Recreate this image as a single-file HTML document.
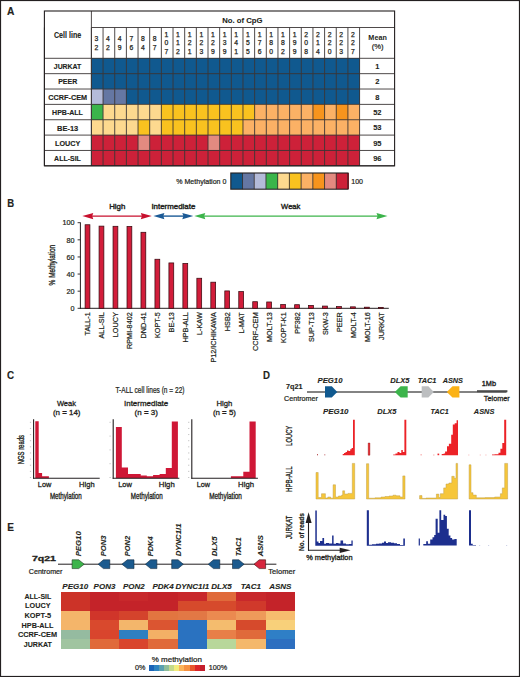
<!DOCTYPE html>
<html><head><meta charset="utf-8"><style>
html,body{margin:0;padding:0;background:#fff;}
body{width:520px;height:677px;overflow:hidden;}
svg{display:block;font-family:"Liberation Sans",sans-serif;}
</style></head><body>
<svg width="520" height="677" viewBox="0 0 520 677">
<rect width="520" height="677" fill="#fff"/>
<rect x="0.50" y="0.50" width="519.00" height="676.00" fill="none" stroke="#231f20" stroke-width="1.2"/>
<text transform="translate(6.90,14.80) scale(0.907,1)" font-size="11.3" font-weight="bold" font-style="normal" fill="#231f20" stroke="#231f20" stroke-width="0.15">A</text>
<text transform="translate(7.30,206.60) scale(0.846,1)" font-size="11.3" font-weight="bold" font-style="normal" fill="#231f20" stroke="#231f20" stroke-width="0.15">B</text>
<text transform="translate(7.10,378.70) scale(0.870,1)" font-size="11.3" font-weight="bold" font-style="normal" fill="#231f20" stroke="#231f20" stroke-width="0.15">C</text>
<text transform="translate(262.90,379.10) scale(0.858,1)" font-size="11.3" font-weight="bold" font-style="normal" fill="#231f20" stroke="#231f20" stroke-width="0.15">D</text>
<text transform="translate(7.20,530.90) scale(0.889,1)" font-size="11.3" font-weight="bold" font-style="normal" fill="#231f20" stroke="#231f20" stroke-width="0.2">E</text>
<rect x="91.40" y="58.30" width="12.16" height="15.86" fill="#10598f" shape-rendering="crispEdges"/>
<rect x="103.06" y="58.30" width="12.16" height="15.86" fill="#10598f" shape-rendering="crispEdges"/>
<rect x="114.72" y="58.30" width="12.16" height="15.86" fill="#10598f" shape-rendering="crispEdges"/>
<rect x="126.38" y="58.30" width="12.16" height="15.86" fill="#10598f" shape-rendering="crispEdges"/>
<rect x="138.04" y="58.30" width="12.16" height="15.86" fill="#10598f" shape-rendering="crispEdges"/>
<rect x="149.70" y="58.30" width="12.16" height="15.86" fill="#10598f" shape-rendering="crispEdges"/>
<rect x="161.36" y="58.30" width="12.16" height="15.86" fill="#10598f" shape-rendering="crispEdges"/>
<rect x="173.02" y="58.30" width="12.16" height="15.86" fill="#10598f" shape-rendering="crispEdges"/>
<rect x="184.68" y="58.30" width="12.16" height="15.86" fill="#10598f" shape-rendering="crispEdges"/>
<rect x="196.34" y="58.30" width="12.16" height="15.86" fill="#10598f" shape-rendering="crispEdges"/>
<rect x="208.00" y="58.30" width="12.16" height="15.86" fill="#10598f" shape-rendering="crispEdges"/>
<rect x="219.66" y="58.30" width="12.16" height="15.86" fill="#10598f" shape-rendering="crispEdges"/>
<rect x="231.32" y="58.30" width="12.16" height="15.86" fill="#10598f" shape-rendering="crispEdges"/>
<rect x="242.98" y="58.30" width="12.16" height="15.86" fill="#10598f" shape-rendering="crispEdges"/>
<rect x="254.64" y="58.30" width="12.16" height="15.86" fill="#10598f" shape-rendering="crispEdges"/>
<rect x="266.30" y="58.30" width="12.16" height="15.86" fill="#10598f" shape-rendering="crispEdges"/>
<rect x="277.96" y="58.30" width="12.16" height="15.86" fill="#10598f" shape-rendering="crispEdges"/>
<rect x="289.62" y="58.30" width="12.16" height="15.86" fill="#10598f" shape-rendering="crispEdges"/>
<rect x="301.28" y="58.30" width="12.16" height="15.86" fill="#10598f" shape-rendering="crispEdges"/>
<rect x="312.94" y="58.30" width="12.16" height="15.86" fill="#10598f" shape-rendering="crispEdges"/>
<rect x="324.60" y="58.30" width="12.16" height="15.86" fill="#10598f" shape-rendering="crispEdges"/>
<rect x="336.26" y="58.30" width="12.16" height="15.86" fill="#10598f" shape-rendering="crispEdges"/>
<rect x="347.92" y="58.30" width="12.16" height="15.86" fill="#10598f" shape-rendering="crispEdges"/>
<rect x="91.40" y="73.66" width="12.16" height="15.86" fill="#10598f" shape-rendering="crispEdges"/>
<rect x="103.06" y="73.66" width="12.16" height="15.86" fill="#10598f" shape-rendering="crispEdges"/>
<rect x="114.72" y="73.66" width="12.16" height="15.86" fill="#10598f" shape-rendering="crispEdges"/>
<rect x="126.38" y="73.66" width="12.16" height="15.86" fill="#10598f" shape-rendering="crispEdges"/>
<rect x="138.04" y="73.66" width="12.16" height="15.86" fill="#10598f" shape-rendering="crispEdges"/>
<rect x="149.70" y="73.66" width="12.16" height="15.86" fill="#10598f" shape-rendering="crispEdges"/>
<rect x="161.36" y="73.66" width="12.16" height="15.86" fill="#10598f" shape-rendering="crispEdges"/>
<rect x="173.02" y="73.66" width="12.16" height="15.86" fill="#10598f" shape-rendering="crispEdges"/>
<rect x="184.68" y="73.66" width="12.16" height="15.86" fill="#10598f" shape-rendering="crispEdges"/>
<rect x="196.34" y="73.66" width="12.16" height="15.86" fill="#10598f" shape-rendering="crispEdges"/>
<rect x="208.00" y="73.66" width="12.16" height="15.86" fill="#10598f" shape-rendering="crispEdges"/>
<rect x="219.66" y="73.66" width="12.16" height="15.86" fill="#10598f" shape-rendering="crispEdges"/>
<rect x="231.32" y="73.66" width="12.16" height="15.86" fill="#10598f" shape-rendering="crispEdges"/>
<rect x="242.98" y="73.66" width="12.16" height="15.86" fill="#10598f" shape-rendering="crispEdges"/>
<rect x="254.64" y="73.66" width="12.16" height="15.86" fill="#10598f" shape-rendering="crispEdges"/>
<rect x="266.30" y="73.66" width="12.16" height="15.86" fill="#10598f" shape-rendering="crispEdges"/>
<rect x="277.96" y="73.66" width="12.16" height="15.86" fill="#10598f" shape-rendering="crispEdges"/>
<rect x="289.62" y="73.66" width="12.16" height="15.86" fill="#10598f" shape-rendering="crispEdges"/>
<rect x="301.28" y="73.66" width="12.16" height="15.86" fill="#10598f" shape-rendering="crispEdges"/>
<rect x="312.94" y="73.66" width="12.16" height="15.86" fill="#10598f" shape-rendering="crispEdges"/>
<rect x="324.60" y="73.66" width="12.16" height="15.86" fill="#10598f" shape-rendering="crispEdges"/>
<rect x="336.26" y="73.66" width="12.16" height="15.86" fill="#10598f" shape-rendering="crispEdges"/>
<rect x="347.92" y="73.66" width="12.16" height="15.86" fill="#10598f" shape-rendering="crispEdges"/>
<rect x="91.40" y="89.02" width="12.16" height="15.86" fill="#b4bbd9" shape-rendering="crispEdges"/>
<rect x="103.06" y="89.02" width="12.16" height="15.86" fill="#6577a3" shape-rendering="crispEdges"/>
<rect x="114.72" y="89.02" width="12.16" height="15.86" fill="#6577a3" shape-rendering="crispEdges"/>
<rect x="126.38" y="89.02" width="12.16" height="15.86" fill="#10598f" shape-rendering="crispEdges"/>
<rect x="138.04" y="89.02" width="12.16" height="15.86" fill="#10598f" shape-rendering="crispEdges"/>
<rect x="149.70" y="89.02" width="12.16" height="15.86" fill="#10598f" shape-rendering="crispEdges"/>
<rect x="161.36" y="89.02" width="12.16" height="15.86" fill="#10598f" shape-rendering="crispEdges"/>
<rect x="173.02" y="89.02" width="12.16" height="15.86" fill="#10598f" shape-rendering="crispEdges"/>
<rect x="184.68" y="89.02" width="12.16" height="15.86" fill="#10598f" shape-rendering="crispEdges"/>
<rect x="196.34" y="89.02" width="12.16" height="15.86" fill="#10598f" shape-rendering="crispEdges"/>
<rect x="208.00" y="89.02" width="12.16" height="15.86" fill="#10598f" shape-rendering="crispEdges"/>
<rect x="219.66" y="89.02" width="12.16" height="15.86" fill="#10598f" shape-rendering="crispEdges"/>
<rect x="231.32" y="89.02" width="12.16" height="15.86" fill="#10598f" shape-rendering="crispEdges"/>
<rect x="242.98" y="89.02" width="12.16" height="15.86" fill="#10598f" shape-rendering="crispEdges"/>
<rect x="254.64" y="89.02" width="12.16" height="15.86" fill="#10598f" shape-rendering="crispEdges"/>
<rect x="266.30" y="89.02" width="12.16" height="15.86" fill="#10598f" shape-rendering="crispEdges"/>
<rect x="277.96" y="89.02" width="12.16" height="15.86" fill="#10598f" shape-rendering="crispEdges"/>
<rect x="289.62" y="89.02" width="12.16" height="15.86" fill="#10598f" shape-rendering="crispEdges"/>
<rect x="301.28" y="89.02" width="12.16" height="15.86" fill="#10598f" shape-rendering="crispEdges"/>
<rect x="312.94" y="89.02" width="12.16" height="15.86" fill="#10598f" shape-rendering="crispEdges"/>
<rect x="324.60" y="89.02" width="12.16" height="15.86" fill="#10598f" shape-rendering="crispEdges"/>
<rect x="336.26" y="89.02" width="12.16" height="15.86" fill="#10598f" shape-rendering="crispEdges"/>
<rect x="347.92" y="89.02" width="12.16" height="15.86" fill="#10598f" shape-rendering="crispEdges"/>
<rect x="91.40" y="104.38" width="12.16" height="15.86" fill="#3ab54a" shape-rendering="crispEdges"/>
<rect x="103.06" y="104.38" width="12.16" height="15.86" fill="#fdd98f" shape-rendering="crispEdges"/>
<rect x="114.72" y="104.38" width="12.16" height="15.86" fill="#fdd98f" shape-rendering="crispEdges"/>
<rect x="126.38" y="104.38" width="12.16" height="15.86" fill="#fdd98f" shape-rendering="crispEdges"/>
<rect x="138.04" y="104.38" width="12.16" height="15.86" fill="#fdd98f" shape-rendering="crispEdges"/>
<rect x="149.70" y="104.38" width="12.16" height="15.86" fill="#fdd98f" shape-rendering="crispEdges"/>
<rect x="161.36" y="104.38" width="12.16" height="15.86" fill="#f9c21f" shape-rendering="crispEdges"/>
<rect x="173.02" y="104.38" width="12.16" height="15.86" fill="#f9c21f" shape-rendering="crispEdges"/>
<rect x="184.68" y="104.38" width="12.16" height="15.86" fill="#f9c21f" shape-rendering="crispEdges"/>
<rect x="196.34" y="104.38" width="12.16" height="15.86" fill="#f9c21f" shape-rendering="crispEdges"/>
<rect x="208.00" y="104.38" width="12.16" height="15.86" fill="#f9c21f" shape-rendering="crispEdges"/>
<rect x="219.66" y="104.38" width="12.16" height="15.86" fill="#f9c21f" shape-rendering="crispEdges"/>
<rect x="231.32" y="104.38" width="12.16" height="15.86" fill="#f9c21f" shape-rendering="crispEdges"/>
<rect x="242.98" y="104.38" width="12.16" height="15.86" fill="#f9c21f" shape-rendering="crispEdges"/>
<rect x="254.64" y="104.38" width="12.16" height="15.86" fill="#fbb165" shape-rendering="crispEdges"/>
<rect x="266.30" y="104.38" width="12.16" height="15.86" fill="#fbb165" shape-rendering="crispEdges"/>
<rect x="277.96" y="104.38" width="12.16" height="15.86" fill="#fbb165" shape-rendering="crispEdges"/>
<rect x="289.62" y="104.38" width="12.16" height="15.86" fill="#fbb165" shape-rendering="crispEdges"/>
<rect x="301.28" y="104.38" width="12.16" height="15.86" fill="#fbb165" shape-rendering="crispEdges"/>
<rect x="312.94" y="104.38" width="12.16" height="15.86" fill="#f7941d" shape-rendering="crispEdges"/>
<rect x="324.60" y="104.38" width="12.16" height="15.86" fill="#fbb165" shape-rendering="crispEdges"/>
<rect x="336.26" y="104.38" width="12.16" height="15.86" fill="#f7941d" shape-rendering="crispEdges"/>
<rect x="347.92" y="104.38" width="12.16" height="15.86" fill="#fbb165" shape-rendering="crispEdges"/>
<rect x="91.40" y="119.74" width="12.16" height="15.86" fill="#fdd98f" shape-rendering="crispEdges"/>
<rect x="103.06" y="119.74" width="12.16" height="15.86" fill="#fdd98f" shape-rendering="crispEdges"/>
<rect x="114.72" y="119.74" width="12.16" height="15.86" fill="#fdd98f" shape-rendering="crispEdges"/>
<rect x="126.38" y="119.74" width="12.16" height="15.86" fill="#fdd98f" shape-rendering="crispEdges"/>
<rect x="138.04" y="119.74" width="12.16" height="15.86" fill="#f9c21f" shape-rendering="crispEdges"/>
<rect x="149.70" y="119.74" width="12.16" height="15.86" fill="#fdd98f" shape-rendering="crispEdges"/>
<rect x="161.36" y="119.74" width="12.16" height="15.86" fill="#f9c21f" shape-rendering="crispEdges"/>
<rect x="173.02" y="119.74" width="12.16" height="15.86" fill="#f9c21f" shape-rendering="crispEdges"/>
<rect x="184.68" y="119.74" width="12.16" height="15.86" fill="#f9c21f" shape-rendering="crispEdges"/>
<rect x="196.34" y="119.74" width="12.16" height="15.86" fill="#f9c21f" shape-rendering="crispEdges"/>
<rect x="208.00" y="119.74" width="12.16" height="15.86" fill="#f9c21f" shape-rendering="crispEdges"/>
<rect x="219.66" y="119.74" width="12.16" height="15.86" fill="#f9c21f" shape-rendering="crispEdges"/>
<rect x="231.32" y="119.74" width="12.16" height="15.86" fill="#f9c21f" shape-rendering="crispEdges"/>
<rect x="242.98" y="119.74" width="12.16" height="15.86" fill="#fbb165" shape-rendering="crispEdges"/>
<rect x="254.64" y="119.74" width="12.16" height="15.86" fill="#fbb165" shape-rendering="crispEdges"/>
<rect x="266.30" y="119.74" width="12.16" height="15.86" fill="#fbb165" shape-rendering="crispEdges"/>
<rect x="277.96" y="119.74" width="12.16" height="15.86" fill="#fbb165" shape-rendering="crispEdges"/>
<rect x="289.62" y="119.74" width="12.16" height="15.86" fill="#fbb165" shape-rendering="crispEdges"/>
<rect x="301.28" y="119.74" width="12.16" height="15.86" fill="#fbb165" shape-rendering="crispEdges"/>
<rect x="312.94" y="119.74" width="12.16" height="15.86" fill="#fbb165" shape-rendering="crispEdges"/>
<rect x="324.60" y="119.74" width="12.16" height="15.86" fill="#fbb165" shape-rendering="crispEdges"/>
<rect x="336.26" y="119.74" width="12.16" height="15.86" fill="#fbb165" shape-rendering="crispEdges"/>
<rect x="347.92" y="119.74" width="12.16" height="15.86" fill="#fbb165" shape-rendering="crispEdges"/>
<rect x="91.40" y="135.10" width="12.16" height="15.86" fill="#cd2139" shape-rendering="crispEdges"/>
<rect x="103.06" y="135.10" width="12.16" height="15.86" fill="#cd2139" shape-rendering="crispEdges"/>
<rect x="114.72" y="135.10" width="12.16" height="15.86" fill="#cd2139" shape-rendering="crispEdges"/>
<rect x="126.38" y="135.10" width="12.16" height="15.86" fill="#cd2139" shape-rendering="crispEdges"/>
<rect x="138.04" y="135.10" width="12.16" height="15.86" fill="#e38a80" shape-rendering="crispEdges"/>
<rect x="149.70" y="135.10" width="12.16" height="15.86" fill="#cd2139" shape-rendering="crispEdges"/>
<rect x="161.36" y="135.10" width="12.16" height="15.86" fill="#cd2139" shape-rendering="crispEdges"/>
<rect x="173.02" y="135.10" width="12.16" height="15.86" fill="#cd2139" shape-rendering="crispEdges"/>
<rect x="184.68" y="135.10" width="12.16" height="15.86" fill="#cd2139" shape-rendering="crispEdges"/>
<rect x="196.34" y="135.10" width="12.16" height="15.86" fill="#cd2139" shape-rendering="crispEdges"/>
<rect x="208.00" y="135.10" width="12.16" height="15.86" fill="#e38a80" shape-rendering="crispEdges"/>
<rect x="219.66" y="135.10" width="12.16" height="15.86" fill="#cd2139" shape-rendering="crispEdges"/>
<rect x="231.32" y="135.10" width="12.16" height="15.86" fill="#cd2139" shape-rendering="crispEdges"/>
<rect x="242.98" y="135.10" width="12.16" height="15.86" fill="#cd2139" shape-rendering="crispEdges"/>
<rect x="254.64" y="135.10" width="12.16" height="15.86" fill="#cd2139" shape-rendering="crispEdges"/>
<rect x="266.30" y="135.10" width="12.16" height="15.86" fill="#cd2139" shape-rendering="crispEdges"/>
<rect x="277.96" y="135.10" width="12.16" height="15.86" fill="#cd2139" shape-rendering="crispEdges"/>
<rect x="289.62" y="135.10" width="12.16" height="15.86" fill="#cd2139" shape-rendering="crispEdges"/>
<rect x="301.28" y="135.10" width="12.16" height="15.86" fill="#cd2139" shape-rendering="crispEdges"/>
<rect x="312.94" y="135.10" width="12.16" height="15.86" fill="#cd2139" shape-rendering="crispEdges"/>
<rect x="324.60" y="135.10" width="12.16" height="15.86" fill="#cd2139" shape-rendering="crispEdges"/>
<rect x="336.26" y="135.10" width="12.16" height="15.86" fill="#cd2139" shape-rendering="crispEdges"/>
<rect x="347.92" y="135.10" width="12.16" height="15.86" fill="#cd2139" shape-rendering="crispEdges"/>
<rect x="91.40" y="150.46" width="12.16" height="15.86" fill="#cd2139" shape-rendering="crispEdges"/>
<rect x="103.06" y="150.46" width="12.16" height="15.86" fill="#cd2139" shape-rendering="crispEdges"/>
<rect x="114.72" y="150.46" width="12.16" height="15.86" fill="#cd2139" shape-rendering="crispEdges"/>
<rect x="126.38" y="150.46" width="12.16" height="15.86" fill="#cd2139" shape-rendering="crispEdges"/>
<rect x="138.04" y="150.46" width="12.16" height="15.86" fill="#cd2139" shape-rendering="crispEdges"/>
<rect x="149.70" y="150.46" width="12.16" height="15.86" fill="#cd2139" shape-rendering="crispEdges"/>
<rect x="161.36" y="150.46" width="12.16" height="15.86" fill="#cd2139" shape-rendering="crispEdges"/>
<rect x="173.02" y="150.46" width="12.16" height="15.86" fill="#cd2139" shape-rendering="crispEdges"/>
<rect x="184.68" y="150.46" width="12.16" height="15.86" fill="#cd2139" shape-rendering="crispEdges"/>
<rect x="196.34" y="150.46" width="12.16" height="15.86" fill="#cd2139" shape-rendering="crispEdges"/>
<rect x="208.00" y="150.46" width="12.16" height="15.86" fill="#cd2139" shape-rendering="crispEdges"/>
<rect x="219.66" y="150.46" width="12.16" height="15.86" fill="#cd2139" shape-rendering="crispEdges"/>
<rect x="231.32" y="150.46" width="12.16" height="15.86" fill="#cd2139" shape-rendering="crispEdges"/>
<rect x="242.98" y="150.46" width="12.16" height="15.86" fill="#cd2139" shape-rendering="crispEdges"/>
<rect x="254.64" y="150.46" width="12.16" height="15.86" fill="#cd2139" shape-rendering="crispEdges"/>
<rect x="266.30" y="150.46" width="12.16" height="15.86" fill="#cd2139" shape-rendering="crispEdges"/>
<rect x="277.96" y="150.46" width="12.16" height="15.86" fill="#cd2139" shape-rendering="crispEdges"/>
<rect x="289.62" y="150.46" width="12.16" height="15.86" fill="#cd2139" shape-rendering="crispEdges"/>
<rect x="301.28" y="150.46" width="12.16" height="15.86" fill="#cd2139" shape-rendering="crispEdges"/>
<rect x="312.94" y="150.46" width="12.16" height="15.86" fill="#cd2139" shape-rendering="crispEdges"/>
<rect x="324.60" y="150.46" width="12.16" height="15.86" fill="#cd2139" shape-rendering="crispEdges"/>
<rect x="336.26" y="150.46" width="12.16" height="15.86" fill="#cd2139" shape-rendering="crispEdges"/>
<rect x="347.92" y="150.46" width="12.16" height="15.86" fill="#cd2139" shape-rendering="crispEdges"/>
<line x1="91.40" y1="27.50" x2="91.40" y2="165.82" stroke="#3b3536" stroke-width="0.9"/>
<line x1="103.06" y1="27.50" x2="103.06" y2="165.82" stroke="#3b3536" stroke-width="0.9"/>
<line x1="114.72" y1="27.50" x2="114.72" y2="165.82" stroke="#3b3536" stroke-width="0.9"/>
<line x1="126.38" y1="27.50" x2="126.38" y2="165.82" stroke="#3b3536" stroke-width="0.9"/>
<line x1="138.04" y1="27.50" x2="138.04" y2="165.82" stroke="#3b3536" stroke-width="0.9"/>
<line x1="149.70" y1="27.50" x2="149.70" y2="165.82" stroke="#3b3536" stroke-width="0.9"/>
<line x1="161.36" y1="27.50" x2="161.36" y2="165.82" stroke="#3b3536" stroke-width="0.9"/>
<line x1="173.02" y1="27.50" x2="173.02" y2="165.82" stroke="#3b3536" stroke-width="0.9"/>
<line x1="184.68" y1="27.50" x2="184.68" y2="165.82" stroke="#3b3536" stroke-width="0.9"/>
<line x1="196.34" y1="27.50" x2="196.34" y2="165.82" stroke="#3b3536" stroke-width="0.9"/>
<line x1="208.00" y1="27.50" x2="208.00" y2="165.82" stroke="#3b3536" stroke-width="0.9"/>
<line x1="219.66" y1="27.50" x2="219.66" y2="165.82" stroke="#3b3536" stroke-width="0.9"/>
<line x1="231.32" y1="27.50" x2="231.32" y2="165.82" stroke="#3b3536" stroke-width="0.9"/>
<line x1="242.98" y1="27.50" x2="242.98" y2="165.82" stroke="#3b3536" stroke-width="0.9"/>
<line x1="254.64" y1="27.50" x2="254.64" y2="165.82" stroke="#3b3536" stroke-width="0.9"/>
<line x1="266.30" y1="27.50" x2="266.30" y2="165.82" stroke="#3b3536" stroke-width="0.9"/>
<line x1="277.96" y1="27.50" x2="277.96" y2="165.82" stroke="#3b3536" stroke-width="0.9"/>
<line x1="289.62" y1="27.50" x2="289.62" y2="165.82" stroke="#3b3536" stroke-width="0.9"/>
<line x1="301.28" y1="27.50" x2="301.28" y2="165.82" stroke="#3b3536" stroke-width="0.9"/>
<line x1="312.94" y1="27.50" x2="312.94" y2="165.82" stroke="#3b3536" stroke-width="0.9"/>
<line x1="324.60" y1="27.50" x2="324.60" y2="165.82" stroke="#3b3536" stroke-width="0.9"/>
<line x1="336.26" y1="27.50" x2="336.26" y2="165.82" stroke="#3b3536" stroke-width="0.9"/>
<line x1="347.92" y1="27.50" x2="347.92" y2="165.82" stroke="#3b3536" stroke-width="0.9"/>
<line x1="359.58" y1="27.50" x2="359.58" y2="165.82" stroke="#3b3536" stroke-width="0.9"/>
<line x1="44.40" y1="58.30" x2="394.60" y2="58.30" stroke="#3b3536" stroke-width="0.9"/>
<line x1="44.40" y1="73.66" x2="394.60" y2="73.66" stroke="#3b3536" stroke-width="0.9"/>
<line x1="44.40" y1="89.02" x2="394.60" y2="89.02" stroke="#3b3536" stroke-width="0.9"/>
<line x1="44.40" y1="104.38" x2="394.60" y2="104.38" stroke="#3b3536" stroke-width="0.9"/>
<line x1="44.40" y1="119.74" x2="394.60" y2="119.74" stroke="#3b3536" stroke-width="0.9"/>
<line x1="44.40" y1="135.10" x2="394.60" y2="135.10" stroke="#3b3536" stroke-width="0.9"/>
<line x1="44.40" y1="150.46" x2="394.60" y2="150.46" stroke="#3b3536" stroke-width="0.9"/>
<line x1="44.40" y1="165.82" x2="394.60" y2="165.82" stroke="#3b3536" stroke-width="0.9"/>
<line x1="44.40" y1="27.50" x2="44.40" y2="165.82" stroke="#3b3536" stroke-width="0.9"/>
<line x1="91.40" y1="11.00" x2="91.40" y2="165.82" stroke="#3b3536" stroke-width="0.9"/>
<line x1="91.40" y1="27.50" x2="394.60" y2="27.50" stroke="#3b3536" stroke-width="0.9"/>
<rect x="44.40" y="11.00" width="350.20" height="154.82" fill="none" stroke="#231f20" stroke-width="1.1"/>
<text transform="translate(53.90,37.80) scale(0.872,1)" font-size="8.2" font-weight="bold" font-style="normal" fill="#231f20" stroke="#231f20" stroke-width="0.1">Cell line</text>
<text transform="translate(222.30,22.70) scale(0.987,1)" font-size="7.8" font-weight="bold" font-style="normal" fill="#231f20" stroke="#231f20" stroke-width="0.1">No. of CpG</text>
<text transform="translate(368.37,40.30) scale(0.950,1)" font-size="7.6" font-weight="bold" font-style="normal" fill="#231f20">Mean</text>
<text transform="translate(371.69,49.10) scale(1.000,1)" font-size="7.6" font-weight="normal" font-style="normal" fill="#231f20" stroke="#231f20" stroke-width="0.2">(%)</text>
<text transform="translate(94.44,40.70) scale(1.000,1)" font-size="6.8" font-weight="normal" font-style="normal" fill="#231f20" stroke="#231f20" stroke-width="0.25">3</text>
<text transform="translate(94.44,49.70) scale(1.000,1)" font-size="6.8" font-weight="normal" font-style="normal" fill="#231f20" stroke="#231f20" stroke-width="0.25">2</text>
<text transform="translate(106.10,40.70) scale(1.000,1)" font-size="6.8" font-weight="normal" font-style="normal" fill="#231f20" stroke="#231f20" stroke-width="0.25">4</text>
<text transform="translate(106.10,49.70) scale(1.000,1)" font-size="6.8" font-weight="normal" font-style="normal" fill="#231f20" stroke="#231f20" stroke-width="0.25">2</text>
<text transform="translate(117.76,40.70) scale(1.000,1)" font-size="6.8" font-weight="normal" font-style="normal" fill="#231f20" stroke="#231f20" stroke-width="0.25">4</text>
<text transform="translate(117.76,49.70) scale(1.000,1)" font-size="6.8" font-weight="normal" font-style="normal" fill="#231f20" stroke="#231f20" stroke-width="0.25">9</text>
<text transform="translate(129.42,40.70) scale(1.000,1)" font-size="6.8" font-weight="normal" font-style="normal" fill="#231f20" stroke="#231f20" stroke-width="0.25">7</text>
<text transform="translate(129.42,49.70) scale(1.000,1)" font-size="6.8" font-weight="normal" font-style="normal" fill="#231f20" stroke="#231f20" stroke-width="0.25">6</text>
<text transform="translate(141.08,40.70) scale(1.000,1)" font-size="6.8" font-weight="normal" font-style="normal" fill="#231f20" stroke="#231f20" stroke-width="0.25">8</text>
<text transform="translate(141.08,49.70) scale(1.000,1)" font-size="6.8" font-weight="normal" font-style="normal" fill="#231f20" stroke="#231f20" stroke-width="0.25">4</text>
<text transform="translate(152.74,40.70) scale(1.000,1)" font-size="6.8" font-weight="normal" font-style="normal" fill="#231f20" stroke="#231f20" stroke-width="0.25">8</text>
<text transform="translate(152.74,49.70) scale(1.000,1)" font-size="6.8" font-weight="normal" font-style="normal" fill="#231f20" stroke="#231f20" stroke-width="0.25">7</text>
<text transform="translate(164.40,36.70) scale(1.000,1)" font-size="6.8" font-weight="normal" font-style="normal" fill="#231f20" stroke="#231f20" stroke-width="0.25">1</text>
<text transform="translate(164.40,45.10) scale(1.000,1)" font-size="6.8" font-weight="normal" font-style="normal" fill="#231f20" stroke="#231f20" stroke-width="0.25">0</text>
<text transform="translate(164.40,53.70) scale(1.000,1)" font-size="6.8" font-weight="normal" font-style="normal" fill="#231f20" stroke="#231f20" stroke-width="0.25">7</text>
<text transform="translate(176.06,36.70) scale(1.000,1)" font-size="6.8" font-weight="normal" font-style="normal" fill="#231f20" stroke="#231f20" stroke-width="0.25">1</text>
<text transform="translate(176.06,45.10) scale(1.000,1)" font-size="6.8" font-weight="normal" font-style="normal" fill="#231f20" stroke="#231f20" stroke-width="0.25">1</text>
<text transform="translate(176.06,53.70) scale(1.000,1)" font-size="6.8" font-weight="normal" font-style="normal" fill="#231f20" stroke="#231f20" stroke-width="0.25">2</text>
<text transform="translate(187.72,36.70) scale(1.000,1)" font-size="6.8" font-weight="normal" font-style="normal" fill="#231f20" stroke="#231f20" stroke-width="0.25">1</text>
<text transform="translate(187.72,45.10) scale(1.000,1)" font-size="6.8" font-weight="normal" font-style="normal" fill="#231f20" stroke="#231f20" stroke-width="0.25">2</text>
<text transform="translate(187.72,53.70) scale(1.000,1)" font-size="6.8" font-weight="normal" font-style="normal" fill="#231f20" stroke="#231f20" stroke-width="0.25">1</text>
<text transform="translate(199.38,36.70) scale(1.000,1)" font-size="6.8" font-weight="normal" font-style="normal" fill="#231f20" stroke="#231f20" stroke-width="0.25">1</text>
<text transform="translate(199.38,45.10) scale(1.000,1)" font-size="6.8" font-weight="normal" font-style="normal" fill="#231f20" stroke="#231f20" stroke-width="0.25">2</text>
<text transform="translate(199.38,53.70) scale(1.000,1)" font-size="6.8" font-weight="normal" font-style="normal" fill="#231f20" stroke="#231f20" stroke-width="0.25">3</text>
<text transform="translate(211.04,36.70) scale(1.000,1)" font-size="6.8" font-weight="normal" font-style="normal" fill="#231f20" stroke="#231f20" stroke-width="0.25">1</text>
<text transform="translate(211.04,45.10) scale(1.000,1)" font-size="6.8" font-weight="normal" font-style="normal" fill="#231f20" stroke="#231f20" stroke-width="0.25">2</text>
<text transform="translate(211.04,53.70) scale(1.000,1)" font-size="6.8" font-weight="normal" font-style="normal" fill="#231f20" stroke="#231f20" stroke-width="0.25">9</text>
<text transform="translate(222.70,36.70) scale(1.000,1)" font-size="6.8" font-weight="normal" font-style="normal" fill="#231f20" stroke="#231f20" stroke-width="0.25">1</text>
<text transform="translate(222.70,45.10) scale(1.000,1)" font-size="6.8" font-weight="normal" font-style="normal" fill="#231f20" stroke="#231f20" stroke-width="0.25">3</text>
<text transform="translate(222.70,53.70) scale(1.000,1)" font-size="6.8" font-weight="normal" font-style="normal" fill="#231f20" stroke="#231f20" stroke-width="0.25">9</text>
<text transform="translate(234.36,36.70) scale(1.000,1)" font-size="6.8" font-weight="normal" font-style="normal" fill="#231f20" stroke="#231f20" stroke-width="0.25">1</text>
<text transform="translate(234.36,45.10) scale(1.000,1)" font-size="6.8" font-weight="normal" font-style="normal" fill="#231f20" stroke="#231f20" stroke-width="0.25">4</text>
<text transform="translate(234.36,53.70) scale(1.000,1)" font-size="6.8" font-weight="normal" font-style="normal" fill="#231f20" stroke="#231f20" stroke-width="0.25">1</text>
<text transform="translate(246.02,36.70) scale(1.000,1)" font-size="6.8" font-weight="normal" font-style="normal" fill="#231f20" stroke="#231f20" stroke-width="0.25">1</text>
<text transform="translate(246.02,45.10) scale(1.000,1)" font-size="6.8" font-weight="normal" font-style="normal" fill="#231f20" stroke="#231f20" stroke-width="0.25">5</text>
<text transform="translate(246.02,53.70) scale(1.000,1)" font-size="6.8" font-weight="normal" font-style="normal" fill="#231f20" stroke="#231f20" stroke-width="0.25">5</text>
<text transform="translate(257.68,36.70) scale(1.000,1)" font-size="6.8" font-weight="normal" font-style="normal" fill="#231f20" stroke="#231f20" stroke-width="0.25">1</text>
<text transform="translate(257.68,45.10) scale(1.000,1)" font-size="6.8" font-weight="normal" font-style="normal" fill="#231f20" stroke="#231f20" stroke-width="0.25">7</text>
<text transform="translate(257.68,53.70) scale(1.000,1)" font-size="6.8" font-weight="normal" font-style="normal" fill="#231f20" stroke="#231f20" stroke-width="0.25">6</text>
<text transform="translate(269.34,36.70) scale(1.000,1)" font-size="6.8" font-weight="normal" font-style="normal" fill="#231f20" stroke="#231f20" stroke-width="0.25">1</text>
<text transform="translate(269.34,45.10) scale(1.000,1)" font-size="6.8" font-weight="normal" font-style="normal" fill="#231f20" stroke="#231f20" stroke-width="0.25">8</text>
<text transform="translate(269.34,53.70) scale(1.000,1)" font-size="6.8" font-weight="normal" font-style="normal" fill="#231f20" stroke="#231f20" stroke-width="0.25">0</text>
<text transform="translate(281.00,36.70) scale(1.000,1)" font-size="6.8" font-weight="normal" font-style="normal" fill="#231f20" stroke="#231f20" stroke-width="0.25">1</text>
<text transform="translate(281.00,45.10) scale(1.000,1)" font-size="6.8" font-weight="normal" font-style="normal" fill="#231f20" stroke="#231f20" stroke-width="0.25">8</text>
<text transform="translate(281.00,53.70) scale(1.000,1)" font-size="6.8" font-weight="normal" font-style="normal" fill="#231f20" stroke="#231f20" stroke-width="0.25">2</text>
<text transform="translate(292.66,36.70) scale(1.000,1)" font-size="6.8" font-weight="normal" font-style="normal" fill="#231f20" stroke="#231f20" stroke-width="0.25">1</text>
<text transform="translate(292.66,45.10) scale(1.000,1)" font-size="6.8" font-weight="normal" font-style="normal" fill="#231f20" stroke="#231f20" stroke-width="0.25">9</text>
<text transform="translate(292.66,53.70) scale(1.000,1)" font-size="6.8" font-weight="normal" font-style="normal" fill="#231f20" stroke="#231f20" stroke-width="0.25">9</text>
<text transform="translate(304.32,36.70) scale(1.000,1)" font-size="6.8" font-weight="normal" font-style="normal" fill="#231f20" stroke="#231f20" stroke-width="0.25">2</text>
<text transform="translate(304.32,45.10) scale(1.000,1)" font-size="6.8" font-weight="normal" font-style="normal" fill="#231f20" stroke="#231f20" stroke-width="0.25">0</text>
<text transform="translate(304.32,53.70) scale(1.000,1)" font-size="6.8" font-weight="normal" font-style="normal" fill="#231f20" stroke="#231f20" stroke-width="0.25">8</text>
<text transform="translate(315.98,36.70) scale(1.000,1)" font-size="6.8" font-weight="normal" font-style="normal" fill="#231f20" stroke="#231f20" stroke-width="0.25">2</text>
<text transform="translate(315.98,45.10) scale(1.000,1)" font-size="6.8" font-weight="normal" font-style="normal" fill="#231f20" stroke="#231f20" stroke-width="0.25">1</text>
<text transform="translate(315.98,53.70) scale(1.000,1)" font-size="6.8" font-weight="normal" font-style="normal" fill="#231f20" stroke="#231f20" stroke-width="0.25">4</text>
<text transform="translate(327.64,36.70) scale(1.000,1)" font-size="6.8" font-weight="normal" font-style="normal" fill="#231f20" stroke="#231f20" stroke-width="0.25">2</text>
<text transform="translate(327.64,45.10) scale(1.000,1)" font-size="6.8" font-weight="normal" font-style="normal" fill="#231f20" stroke="#231f20" stroke-width="0.25">2</text>
<text transform="translate(327.64,53.70) scale(1.000,1)" font-size="6.8" font-weight="normal" font-style="normal" fill="#231f20" stroke="#231f20" stroke-width="0.25">0</text>
<text transform="translate(339.30,36.70) scale(1.000,1)" font-size="6.8" font-weight="normal" font-style="normal" fill="#231f20" stroke="#231f20" stroke-width="0.25">2</text>
<text transform="translate(339.30,45.10) scale(1.000,1)" font-size="6.8" font-weight="normal" font-style="normal" fill="#231f20" stroke="#231f20" stroke-width="0.25">2</text>
<text transform="translate(339.30,53.70) scale(1.000,1)" font-size="6.8" font-weight="normal" font-style="normal" fill="#231f20" stroke="#231f20" stroke-width="0.25">3</text>
<text transform="translate(350.96,36.70) scale(1.000,1)" font-size="6.8" font-weight="normal" font-style="normal" fill="#231f20" stroke="#231f20" stroke-width="0.25">2</text>
<text transform="translate(350.96,45.10) scale(1.000,1)" font-size="6.8" font-weight="normal" font-style="normal" fill="#231f20" stroke="#231f20" stroke-width="0.25">2</text>
<text transform="translate(350.96,53.70) scale(1.000,1)" font-size="6.8" font-weight="normal" font-style="normal" fill="#231f20" stroke="#231f20" stroke-width="0.25">7</text>
<text transform="translate(53.80,69.08) scale(0.853,1)" font-size="8.1" font-weight="bold" font-style="normal" fill="#231f20" stroke="#231f20" stroke-width="0.15">JURKAT</text>
<text transform="translate(375.21,68.98) scale(0.950,1)" font-size="7.9" font-weight="bold" font-style="normal" fill="#231f20" stroke="#231f20" stroke-width="0.1">1</text>
<text transform="translate(58.20,84.44) scale(0.866,1)" font-size="8.1" font-weight="bold" font-style="normal" fill="#231f20" stroke="#231f20" stroke-width="0.15">PEER</text>
<text transform="translate(375.21,84.34) scale(0.950,1)" font-size="7.9" font-weight="bold" font-style="normal" fill="#231f20" stroke="#231f20" stroke-width="0.1">2</text>
<text transform="translate(48.30,99.80) scale(0.898,1)" font-size="8.1" font-weight="bold" font-style="normal" fill="#231f20" stroke="#231f20" stroke-width="0.15">CCRF-CEM</text>
<text transform="translate(375.21,99.70) scale(0.950,1)" font-size="7.9" font-weight="bold" font-style="normal" fill="#231f20" stroke="#231f20" stroke-width="0.1">8</text>
<text transform="translate(52.10,115.16) scale(0.867,1)" font-size="8.1" font-weight="bold" font-style="normal" fill="#231f20" stroke="#231f20" stroke-width="0.15">HPB-ALL</text>
<text transform="translate(373.13,115.06) scale(0.950,1)" font-size="7.9" font-weight="bold" font-style="normal" fill="#231f20" stroke="#231f20" stroke-width="0.1">52</text>
<text transform="translate(57.10,130.52) scale(0.923,1)" font-size="8.1" font-weight="bold" font-style="normal" fill="#231f20" stroke="#231f20" stroke-width="0.15">BE-13</text>
<text transform="translate(373.13,130.42) scale(0.950,1)" font-size="7.9" font-weight="bold" font-style="normal" fill="#231f20" stroke="#231f20" stroke-width="0.1">53</text>
<text transform="translate(55.00,145.88) scale(0.896,1)" font-size="8.1" font-weight="bold" font-style="normal" fill="#231f20" stroke="#231f20" stroke-width="0.15">LOUCY</text>
<text transform="translate(373.13,145.78) scale(0.950,1)" font-size="7.9" font-weight="bold" font-style="normal" fill="#231f20" stroke="#231f20" stroke-width="0.1">95</text>
<text transform="translate(54.10,161.24) scale(0.863,1)" font-size="8.1" font-weight="bold" font-style="normal" fill="#231f20" stroke="#231f20" stroke-width="0.15">ALL-SIL</text>
<text transform="translate(373.13,161.14) scale(0.950,1)" font-size="7.9" font-weight="bold" font-style="normal" fill="#231f20" stroke="#231f20" stroke-width="0.1">96</text>
<text transform="translate(176.20,184.10) scale(0.930,1)" font-size="7.6" font-weight="normal" font-style="normal" fill="#231f20" stroke="#231f20" stroke-width="0.22">% Methylation 0</text>
<rect x="230.80" y="173.00" width="12.22" height="16.20" fill="#10598f" shape-rendering="crispEdges"/>
<rect x="242.52" y="173.00" width="12.22" height="16.20" fill="#6577a3" shape-rendering="crispEdges"/>
<rect x="254.24" y="173.00" width="12.22" height="16.20" fill="#b4bbd9" shape-rendering="crispEdges"/>
<rect x="265.96" y="173.00" width="12.22" height="16.20" fill="#3ab54a" shape-rendering="crispEdges"/>
<rect x="277.68" y="173.00" width="12.22" height="16.20" fill="#fdd98f" shape-rendering="crispEdges"/>
<rect x="289.40" y="173.00" width="12.22" height="16.20" fill="#f9c21f" shape-rendering="crispEdges"/>
<rect x="301.12" y="173.00" width="12.22" height="16.20" fill="#fbb165" shape-rendering="crispEdges"/>
<rect x="312.84" y="173.00" width="12.22" height="16.20" fill="#f7941d" shape-rendering="crispEdges"/>
<rect x="324.56" y="173.00" width="12.22" height="16.20" fill="#e38a80" shape-rendering="crispEdges"/>
<rect x="336.28" y="173.00" width="12.22" height="16.20" fill="#cd2139" shape-rendering="crispEdges"/>
<line x1="242.52" y1="173.00" x2="242.52" y2="189.20" stroke="#3b3536" stroke-width="0.9"/>
<line x1="254.24" y1="173.00" x2="254.24" y2="189.20" stroke="#3b3536" stroke-width="0.9"/>
<line x1="265.96" y1="173.00" x2="265.96" y2="189.20" stroke="#3b3536" stroke-width="0.9"/>
<line x1="277.68" y1="173.00" x2="277.68" y2="189.20" stroke="#3b3536" stroke-width="0.9"/>
<line x1="289.40" y1="173.00" x2="289.40" y2="189.20" stroke="#3b3536" stroke-width="0.9"/>
<line x1="301.12" y1="173.00" x2="301.12" y2="189.20" stroke="#3b3536" stroke-width="0.9"/>
<line x1="312.84" y1="173.00" x2="312.84" y2="189.20" stroke="#3b3536" stroke-width="0.9"/>
<line x1="324.56" y1="173.00" x2="324.56" y2="189.20" stroke="#3b3536" stroke-width="0.9"/>
<line x1="336.28" y1="173.00" x2="336.28" y2="189.20" stroke="#3b3536" stroke-width="0.9"/>
<rect x="230.80" y="173.00" width="117.20" height="16.20" fill="none" stroke="#231f20" stroke-width="1.1"/>
<text transform="translate(351.20,184.10) scale(0.930,1)" font-size="7.6" font-weight="normal" font-style="normal" fill="#231f20" stroke="#231f20" stroke-width="0.22">100</text>
<line x1="80.40" y1="222.40" x2="80.40" y2="308.80" stroke="#231f20" stroke-width="1.0"/>
<line x1="79.90" y1="308.30" x2="388.80" y2="308.30" stroke="#231f20" stroke-width="1.0"/>
<line x1="77.60" y1="308.30" x2="80.40" y2="308.30" stroke="#231f20" stroke-width="0.9"/>
<text transform="translate(70.59,311.00) scale(0.950,1)" font-size="7.6" font-weight="normal" font-style="normal" fill="#231f20" stroke="#231f20" stroke-width="0.22">0</text>
<line x1="77.60" y1="291.18" x2="80.40" y2="291.18" stroke="#231f20" stroke-width="0.9"/>
<text transform="translate(66.57,293.88) scale(0.950,1)" font-size="7.6" font-weight="normal" font-style="normal" fill="#231f20" stroke="#231f20" stroke-width="0.22">20</text>
<line x1="77.60" y1="274.06" x2="80.40" y2="274.06" stroke="#231f20" stroke-width="0.9"/>
<text transform="translate(66.57,276.76) scale(0.950,1)" font-size="7.6" font-weight="normal" font-style="normal" fill="#231f20" stroke="#231f20" stroke-width="0.22">40</text>
<line x1="77.60" y1="256.94" x2="80.40" y2="256.94" stroke="#231f20" stroke-width="0.9"/>
<text transform="translate(66.57,259.64) scale(0.950,1)" font-size="7.6" font-weight="normal" font-style="normal" fill="#231f20" stroke="#231f20" stroke-width="0.22">60</text>
<line x1="77.60" y1="239.82" x2="80.40" y2="239.82" stroke="#231f20" stroke-width="0.9"/>
<text transform="translate(66.57,242.52) scale(0.950,1)" font-size="7.6" font-weight="normal" font-style="normal" fill="#231f20" stroke="#231f20" stroke-width="0.22">80</text>
<line x1="77.60" y1="222.70" x2="80.40" y2="222.70" stroke="#231f20" stroke-width="0.9"/>
<text transform="translate(62.56,225.40) scale(0.950,1)" font-size="7.6" font-weight="normal" font-style="normal" fill="#231f20" stroke="#231f20" stroke-width="0.22">100</text>
<rect x="85.10" y="224.75" width="4.80" height="83.55" fill="#d21d3a" stroke="#3a0a10" stroke-width="0.75"/>
<text transform="translate(90.30,335.52) rotate(-90) scale(0.933,1)" font-size="7.8" font-weight="normal" font-style="normal" fill="#231f20" stroke="#231f20" stroke-width="0.22">TALL-1</text>
<rect x="99.07" y="226.12" width="4.80" height="82.18" fill="#d21d3a" stroke="#3a0a10" stroke-width="0.75"/>
<text transform="translate(104.27,338.48) rotate(-90) scale(0.933,1)" font-size="7.8" font-weight="normal" font-style="normal" fill="#231f20" stroke="#231f20" stroke-width="0.22">ALL-SIL</text>
<rect x="113.04" y="226.30" width="4.80" height="82.00" fill="#d21d3a" stroke="#3a0a10" stroke-width="0.75"/>
<text transform="translate(118.24,337.26) rotate(-90) scale(0.933,1)" font-size="7.8" font-weight="normal" font-style="normal" fill="#231f20" stroke="#231f20" stroke-width="0.22">LOUCY</text>
<rect x="127.01" y="226.47" width="4.80" height="81.83" fill="#d21d3a" stroke="#3a0a10" stroke-width="0.75"/>
<text transform="translate(132.21,349.00) rotate(-90) scale(0.933,1)" font-size="7.8" font-weight="normal" font-style="normal" fill="#231f20" stroke="#231f20" stroke-width="0.22">RPMI-8402</text>
<rect x="140.98" y="232.29" width="4.80" height="76.01" fill="#d21d3a" stroke="#3a0a10" stroke-width="0.75"/>
<text transform="translate(146.18,338.48) rotate(-90) scale(0.933,1)" font-size="7.8" font-weight="normal" font-style="normal" fill="#231f20" stroke="#231f20" stroke-width="0.22">DND-41</text>
<rect x="154.95" y="259.25" width="4.80" height="49.05" fill="#d21d3a" stroke="#3a0a10" stroke-width="0.75"/>
<text transform="translate(160.15,338.08) rotate(-90) scale(0.933,1)" font-size="7.8" font-weight="normal" font-style="normal" fill="#231f20" stroke="#231f20" stroke-width="0.22">KOPT-5</text>
<rect x="168.92" y="262.93" width="4.80" height="45.37" fill="#d21d3a" stroke="#3a0a10" stroke-width="0.75"/>
<text transform="translate(174.12,332.42) rotate(-90) scale(0.933,1)" font-size="7.8" font-weight="normal" font-style="normal" fill="#231f20" stroke="#231f20" stroke-width="0.22">BE-13</text>
<rect x="182.89" y="263.45" width="4.80" height="44.85" fill="#d21d3a" stroke="#3a0a10" stroke-width="0.75"/>
<text transform="translate(188.09,342.53) rotate(-90) scale(0.933,1)" font-size="7.8" font-weight="normal" font-style="normal" fill="#231f20" stroke="#231f20" stroke-width="0.22">HPB-ALL</text>
<rect x="196.86" y="278.25" width="4.80" height="30.05" fill="#d21d3a" stroke="#3a0a10" stroke-width="0.75"/>
<text transform="translate(202.06,334.97) rotate(-90) scale(0.933,1)" font-size="7.8" font-weight="normal" font-style="normal" fill="#231f20" stroke="#231f20" stroke-width="0.22">L-KAW</text>
<rect x="210.83" y="282.19" width="4.80" height="26.11" fill="#d21d3a" stroke="#3a0a10" stroke-width="0.75"/>
<text transform="translate(216.03,362.60) rotate(-90) scale(0.933,1)" font-size="7.8" font-weight="normal" font-style="normal" fill="#231f20" stroke="#231f20" stroke-width="0.22">P12/ICHIKAWA</text>
<rect x="224.80" y="290.92" width="4.80" height="17.38" fill="#d21d3a" stroke="#3a0a10" stroke-width="0.75"/>
<text transform="translate(230.00,331.20) rotate(-90) scale(0.933,1)" font-size="7.8" font-weight="normal" font-style="normal" fill="#231f20" stroke="#231f20" stroke-width="0.22">HSB2</text>
<rect x="238.77" y="291.61" width="4.80" height="16.69" fill="#d21d3a" stroke="#3a0a10" stroke-width="0.75"/>
<text transform="translate(243.97,333.49) rotate(-90) scale(0.933,1)" font-size="7.8" font-weight="normal" font-style="normal" fill="#231f20" stroke="#231f20" stroke-width="0.22">L-MAT</text>
<rect x="252.74" y="301.71" width="4.80" height="6.59" fill="#d21d3a" stroke="#3a0a10" stroke-width="0.75"/>
<text transform="translate(257.94,351.00) rotate(-90) scale(0.933,1)" font-size="7.8" font-weight="normal" font-style="normal" fill="#231f20" stroke="#231f20" stroke-width="0.22">CCRF-CEM</text>
<rect x="266.71" y="301.97" width="4.80" height="6.33" fill="#d21d3a" stroke="#3a0a10" stroke-width="0.75"/>
<text transform="translate(271.91,341.98) rotate(-90) scale(0.933,1)" font-size="7.8" font-weight="normal" font-style="normal" fill="#231f20" stroke="#231f20" stroke-width="0.22">MOLT-13</text>
<rect x="280.68" y="304.53" width="4.80" height="3.77" fill="#d21d3a" stroke="#3a0a10" stroke-width="0.75"/>
<text transform="translate(285.88,342.93) rotate(-90) scale(0.933,1)" font-size="7.8" font-weight="normal" font-style="normal" fill="#231f20" stroke="#231f20" stroke-width="0.22">KOPT-K1</text>
<rect x="294.65" y="304.70" width="4.80" height="3.60" fill="#d21d3a" stroke="#3a0a10" stroke-width="0.75"/>
<text transform="translate(299.85,333.63) rotate(-90) scale(0.933,1)" font-size="7.8" font-weight="normal" font-style="normal" fill="#231f20" stroke="#231f20" stroke-width="0.22">PF382</text>
<rect x="308.62" y="305.39" width="4.80" height="2.91" fill="#d21d3a" stroke="#3a0a10" stroke-width="0.75"/>
<text transform="translate(313.82,342.11) rotate(-90) scale(0.933,1)" font-size="7.8" font-weight="normal" font-style="normal" fill="#231f20" stroke="#231f20" stroke-width="0.22">SUP-T13</text>
<rect x="322.59" y="306.07" width="4.80" height="2.23" fill="#d21d3a" stroke="#3a0a10" stroke-width="0.75"/>
<text transform="translate(327.79,335.11) rotate(-90) scale(0.933,1)" font-size="7.8" font-weight="normal" font-style="normal" fill="#231f20" stroke="#231f20" stroke-width="0.22">SKW-3</text>
<rect x="336.56" y="306.59" width="4.80" height="1.71" fill="#d21d3a" stroke="#3a0a10" stroke-width="0.75"/>
<text transform="translate(341.76,332.01) rotate(-90) scale(0.933,1)" font-size="7.8" font-weight="normal" font-style="normal" fill="#231f20" stroke="#231f20" stroke-width="0.22">PEER</text>
<rect x="350.53" y="306.84" width="4.80" height="1.46" fill="#d21d3a" stroke="#3a0a10" stroke-width="0.75"/>
<text transform="translate(355.73,337.94) rotate(-90) scale(0.933,1)" font-size="7.8" font-weight="normal" font-style="normal" fill="#231f20" stroke="#231f20" stroke-width="0.22">MOLT-4</text>
<rect x="364.50" y="307.19" width="4.80" height="1.11" fill="#d21d3a" stroke="#3a0a10" stroke-width="0.75"/>
<text transform="translate(369.70,341.98) rotate(-90) scale(0.933,1)" font-size="7.8" font-weight="normal" font-style="normal" fill="#231f20" stroke="#231f20" stroke-width="0.22">MOLT-16</text>
<rect x="378.47" y="307.36" width="4.80" height="0.94" fill="#d21d3a" stroke="#3a0a10" stroke-width="0.75"/>
<text transform="translate(383.67,339.95) rotate(-90) scale(0.933,1)" font-size="7.8" font-weight="normal" font-style="normal" fill="#231f20" stroke="#231f20" stroke-width="0.22">JURKAT</text>
<text transform="translate(55.10,285.40) rotate(-90) scale(0.660,1)" font-size="9.8" font-weight="normal" font-style="normal" fill="#231f20" stroke="#231f20" stroke-width="0.35">% Methylation</text>
<line x1="87.30" y1="216.10" x2="146.80" y2="216.10" stroke="#c8102e" stroke-width="1.4"/>
<polygon points="82.30,216.10 93.30,212.90 92.20,216.10 93.30,219.30" fill="#c8102e"/>
<polygon points="151.80,216.10 140.80,212.90 141.90,216.10 140.80,219.30" fill="#c8102e"/>
<line x1="158.40" y1="216.10" x2="188.30" y2="216.10" stroke="#1b5a96" stroke-width="1.4"/>
<polygon points="153.40,216.10 164.40,212.90 163.30,216.10 164.40,219.30" fill="#1b5a96"/>
<polygon points="193.30,216.10 182.30,212.90 183.40,216.10 182.30,219.30" fill="#1b5a96"/>
<line x1="199.30" y1="216.10" x2="382.50" y2="216.10" stroke="#3cb44b" stroke-width="1.4"/>
<polygon points="194.30,216.10 205.30,212.90 204.20,216.10 205.30,219.30" fill="#3cb44b"/>
<polygon points="387.50,216.10 376.50,212.90 377.60,216.10 376.50,219.30" fill="#3cb44b"/>
<text transform="translate(109.20,208.80) scale(1.023,1)" font-size="7.7" font-weight="normal" font-style="normal" fill="#231f20" stroke="#231f20" stroke-width="0.4">High</text>
<text transform="translate(151.40,208.80) scale(1.026,1)" font-size="7.7" font-weight="normal" font-style="normal" fill="#231f20" stroke="#231f20" stroke-width="0.4">Intermediate</text>
<text transform="translate(281.10,208.80) scale(0.987,1)" font-size="7.7" font-weight="normal" font-style="normal" fill="#231f20" stroke="#231f20" stroke-width="0.4">Weak</text>
<text transform="translate(115.40,392.70) scale(0.785,1)" font-size="8.4" font-weight="normal" font-style="normal" fill="#231f20" stroke="#231f20" stroke-width="0.22">T-ALL cell lines (n = 22)</text>
<text transform="translate(56.90,405.80) scale(0.952,1)" font-size="7.9" font-weight="normal" font-style="normal" fill="#231f20" stroke="#231f20" stroke-width="0.3">Weak</text>
<text transform="translate(52.90,414.80) scale(1.019,1)" font-size="7.8" font-weight="normal" font-style="normal" fill="#231f20" stroke="#231f20" stroke-width="0.3">(n = 14)</text>
<polygon points="35.30,478.30 35.30,421.20 38.70,421.20 38.70,473.00 42.10,473.00 42.10,476.20 48.90,476.20 48.90,478.30" fill="#cf1736"/>
<line x1="33.60" y1="419.30" x2="33.60" y2="478.80" stroke="#231f20" stroke-width="1.1"/>
<line x1="33.10" y1="478.30" x2="99.70" y2="478.30" stroke="#231f20" stroke-width="1.1"/>
<line x1="29.90" y1="477.50" x2="31.10" y2="477.50" stroke="#9a9a9a" stroke-width="0.6"/>
<line x1="29.90" y1="471.37" x2="31.10" y2="471.37" stroke="#9a9a9a" stroke-width="0.6"/>
<line x1="29.90" y1="465.23" x2="31.10" y2="465.23" stroke="#9a9a9a" stroke-width="0.6"/>
<line x1="29.90" y1="459.10" x2="31.10" y2="459.10" stroke="#9a9a9a" stroke-width="0.6"/>
<line x1="29.90" y1="452.97" x2="31.10" y2="452.97" stroke="#9a9a9a" stroke-width="0.6"/>
<line x1="29.90" y1="446.83" x2="31.10" y2="446.83" stroke="#9a9a9a" stroke-width="0.6"/>
<line x1="29.90" y1="440.70" x2="31.10" y2="440.70" stroke="#9a9a9a" stroke-width="0.6"/>
<line x1="29.90" y1="434.57" x2="31.10" y2="434.57" stroke="#9a9a9a" stroke-width="0.6"/>
<line x1="29.90" y1="428.43" x2="31.10" y2="428.43" stroke="#9a9a9a" stroke-width="0.6"/>
<line x1="29.90" y1="422.30" x2="31.10" y2="422.30" stroke="#9a9a9a" stroke-width="0.6"/>
<text transform="translate(37.80,486.70) scale(0.942,1)" font-size="7.8" font-weight="normal" font-style="normal" fill="#231f20" stroke="#231f20" stroke-width="0.3">Low</text>
<text transform="translate(79.10,486.70) scale(0.966,1)" font-size="7.8" font-weight="normal" font-style="normal" fill="#231f20" stroke="#231f20" stroke-width="0.3">High</text>
<text transform="translate(49.90,499.20) scale(0.693,1)" font-size="9.0" font-weight="normal" font-style="normal" fill="#231f20" stroke="#231f20" stroke-width="0.35">Methylation</text>
<text transform="translate(124.00,405.80) scale(1.009,1)" font-size="7.9" font-weight="normal" font-style="normal" fill="#231f20" stroke="#231f20" stroke-width="0.3">Intermediate</text>
<text transform="translate(134.60,414.80) scale(1.028,1)" font-size="7.8" font-weight="normal" font-style="normal" fill="#231f20" stroke="#231f20" stroke-width="0.3">(n = 3)</text>
<polygon points="115.90,478.30 115.90,427.00 121.80,427.00 121.80,467.60 128.00,467.60 128.00,474.00 140.70,474.00 140.70,475.40 146.80,475.40 146.80,476.30 153.10,476.30 153.10,474.90 159.60,474.90 159.60,474.00 165.80,474.00 165.80,468.00 171.80,468.00 171.80,421.60 177.90,421.60 177.90,478.30" fill="#cf1736"/>
<line x1="113.20" y1="419.30" x2="113.20" y2="478.80" stroke="#231f20" stroke-width="1.1"/>
<line x1="112.70" y1="478.30" x2="179.30" y2="478.30" stroke="#231f20" stroke-width="1.1"/>
<line x1="109.50" y1="477.50" x2="110.70" y2="477.50" stroke="#9a9a9a" stroke-width="0.6"/>
<line x1="109.50" y1="463.70" x2="110.70" y2="463.70" stroke="#9a9a9a" stroke-width="0.6"/>
<line x1="109.50" y1="449.90" x2="110.70" y2="449.90" stroke="#9a9a9a" stroke-width="0.6"/>
<line x1="109.50" y1="436.10" x2="110.70" y2="436.10" stroke="#9a9a9a" stroke-width="0.6"/>
<line x1="109.50" y1="422.30" x2="110.70" y2="422.30" stroke="#9a9a9a" stroke-width="0.6"/>
<text transform="translate(118.20,486.70) scale(0.963,1)" font-size="7.8" font-weight="normal" font-style="normal" fill="#231f20" stroke="#231f20" stroke-width="0.3">Low</text>
<text transform="translate(158.80,486.70) scale(0.997,1)" font-size="7.8" font-weight="normal" font-style="normal" fill="#231f20" stroke="#231f20" stroke-width="0.3">High</text>
<text transform="translate(130.80,499.20) scale(0.693,1)" font-size="9.0" font-weight="normal" font-style="normal" fill="#231f20" stroke="#231f20" stroke-width="0.35">Methylation</text>
<text transform="translate(216.50,405.80) scale(0.978,1)" font-size="7.9" font-weight="normal" font-style="normal" fill="#231f20" stroke="#231f20" stroke-width="0.3">High</text>
<text transform="translate(212.90,414.80) scale(1.015,1)" font-size="7.8" font-weight="normal" font-style="normal" fill="#231f20" stroke="#231f20" stroke-width="0.3">(n = 5)</text>
<polygon points="230.90,478.30 230.90,476.20 243.30,476.20 243.30,471.80 249.50,471.80 249.50,421.60 255.70,421.60 255.70,478.30" fill="#cf1736"/>
<line x1="191.80" y1="419.30" x2="191.80" y2="478.80" stroke="#231f20" stroke-width="1.1"/>
<line x1="191.30" y1="478.30" x2="257.90" y2="478.30" stroke="#231f20" stroke-width="1.1"/>
<line x1="188.10" y1="477.50" x2="189.30" y2="477.50" stroke="#9a9a9a" stroke-width="0.6"/>
<line x1="188.10" y1="471.37" x2="189.30" y2="471.37" stroke="#9a9a9a" stroke-width="0.6"/>
<line x1="188.10" y1="465.23" x2="189.30" y2="465.23" stroke="#9a9a9a" stroke-width="0.6"/>
<line x1="188.10" y1="459.10" x2="189.30" y2="459.10" stroke="#9a9a9a" stroke-width="0.6"/>
<line x1="188.10" y1="452.97" x2="189.30" y2="452.97" stroke="#9a9a9a" stroke-width="0.6"/>
<line x1="188.10" y1="446.83" x2="189.30" y2="446.83" stroke="#9a9a9a" stroke-width="0.6"/>
<line x1="188.10" y1="440.70" x2="189.30" y2="440.70" stroke="#9a9a9a" stroke-width="0.6"/>
<line x1="188.10" y1="434.57" x2="189.30" y2="434.57" stroke="#9a9a9a" stroke-width="0.6"/>
<line x1="188.10" y1="428.43" x2="189.30" y2="428.43" stroke="#9a9a9a" stroke-width="0.6"/>
<line x1="188.10" y1="422.30" x2="189.30" y2="422.30" stroke="#9a9a9a" stroke-width="0.6"/>
<text transform="translate(196.80,486.70) scale(0.928,1)" font-size="7.8" font-weight="normal" font-style="normal" fill="#231f20" stroke="#231f20" stroke-width="0.3">Low</text>
<text transform="translate(238.10,486.70) scale(0.997,1)" font-size="7.8" font-weight="normal" font-style="normal" fill="#231f20" stroke="#231f20" stroke-width="0.3">High</text>
<text transform="translate(209.20,499.20) scale(0.713,1)" font-size="9.0" font-weight="normal" font-style="normal" fill="#231f20" stroke="#231f20" stroke-width="0.35">Methylation</text>
<text transform="translate(24.30,464.30) rotate(-90) scale(0.598,1)" font-size="9.9" font-weight="normal" font-style="normal" fill="#231f20" stroke="#231f20" stroke-width="0.35">NGS reads</text>
<text transform="translate(286.00,388.90) scale(0.953,1)" font-size="7.6" font-weight="bold" font-style="normal" fill="#231f20" stroke="#231f20" stroke-width="0.15">7q21</text>
<text transform="translate(284.00,400.80) scale(0.973,1)" font-size="7.4" font-weight="normal" font-style="normal" fill="#231f20" stroke="#231f20" stroke-width="0.22">Centromer</text>
<text transform="translate(483.80,401.00) scale(0.988,1)" font-size="7.4" font-weight="normal" font-style="normal" fill="#231f20" stroke="#231f20" stroke-width="0.3">Telomer</text>
<text transform="translate(481.70,386.30) scale(1.021,1)" font-size="7.2" font-weight="normal" font-style="normal" fill="#231f20" stroke="#231f20" stroke-width="0.35">1Mb</text>
<line x1="307.00" y1="392.00" x2="506.50" y2="392.00" stroke="#5a5a5a" stroke-width="1.5"/>
<line x1="477.00" y1="391.20" x2="507.40" y2="391.20" stroke="#4a4a4a" stroke-width="2.0"/>
<polygon points="325.00,386.30 331.76,386.30 337.30,391.90 331.76,397.50 325.00,397.50" fill="#10598f"/>
<polygon points="407.70,386.30 400.61,386.30 394.80,391.90 400.61,397.50 407.70,397.50" fill="#3cb44b"/>
<polygon points="421.70,386.30 428.36,386.30 433.80,391.90 428.36,397.50 421.70,397.50" fill="#bcbec0"/>
<polygon points="459.40,386.30 452.47,386.30 446.80,391.90 452.47,397.50 459.40,397.50" fill="#fbb216"/>
<text transform="translate(317.50,382.60) scale(0.994,1)" font-size="7.8" font-weight="bold" font-style="italic" fill="#231f20" stroke="#231f20" stroke-width="0.1">PEG10</text>
<text transform="translate(390.20,382.90) scale(0.969,1)" font-size="7.8" font-weight="bold" font-style="italic" fill="#231f20" stroke="#231f20" stroke-width="0.1">DLX5</text>
<text transform="translate(417.70,382.90) scale(0.950,1)" font-size="7.8" font-weight="bold" font-style="italic" fill="#231f20" stroke="#231f20" stroke-width="0.1">TAC1</text>
<text transform="translate(442.65,382.90) scale(0.939,1)" font-size="7.8" font-weight="bold" font-style="italic" fill="#231f20" stroke="#231f20" stroke-width="0.1">ASNS</text>
<text transform="translate(323.10,413.80) scale(1.037,1)" font-size="7.6" font-weight="bold" font-style="italic" fill="#231f20" stroke="#231f20" stroke-width="0.1">PEG10</text>
<text transform="translate(377.30,413.80) scale(0.984,1)" font-size="7.6" font-weight="bold" font-style="italic" fill="#231f20" stroke="#231f20" stroke-width="0.1">DLX5</text>
<text transform="translate(430.60,413.80) scale(0.939,1)" font-size="7.6" font-weight="bold" font-style="italic" fill="#231f20" stroke="#231f20" stroke-width="0.1">TAC1</text>
<text transform="translate(473.86,413.80) scale(0.973,1)" font-size="7.6" font-weight="bold" font-style="italic" fill="#231f20" stroke="#231f20" stroke-width="0.1">ASNS</text>
<text transform="translate(292.00,445.70) rotate(-90) scale(0.589,1)" font-size="9.8" font-weight="normal" font-style="normal" fill="#231f20" stroke="#231f20" stroke-width="0.35">LOUCY</text>
<text transform="translate(292.00,492.10) rotate(-90) scale(0.634,1)" font-size="9.8" font-weight="normal" font-style="normal" fill="#231f20" stroke="#231f20" stroke-width="0.35">HPB-ALL</text>
<text transform="translate(292.30,539.00) rotate(-90) scale(0.626,1)" font-size="9.8" font-weight="normal" font-style="normal" fill="#231f20" stroke="#231f20" stroke-width="0.35">JURKAT</text>
<polygon points="317.00,455.20 317.00,454.30 318.00,454.30 318.00,455.20" fill="#a51c22"/>
<polygon points="324.30,455.20 324.30,454.50 325.30,454.50 325.30,455.20" fill="#a51c22"/>
<polygon points="342.70,455.20 342.70,454.00 344.00,454.00 344.00,453.00 345.50,453.00 345.50,452.00 347.00,452.00 347.00,450.50 348.60,450.50 348.60,451.00 350.20,451.00 350.20,449.20 351.60,449.20 351.60,448.00 353.00,448.00 353.00,419.80 354.80,419.80 354.80,455.20" fill="#ec2227"/>
<polygon points="368.20,455.20 368.20,443.00 369.90,443.00 369.90,455.20" fill="#ec2227" stroke="#8a1a1a" stroke-width="0.4" stroke-linejoin="miter"/>
<polygon points="393.20,455.20 393.20,454.50 395.50,454.50 395.50,453.50 397.50,453.50 397.50,452.00 399.50,452.00 399.50,453.00 401.30,453.00 401.30,450.00 402.80,450.00 402.80,452.00 404.40,452.00 404.40,419.80 406.30,419.80 406.30,455.20" fill="#ec2227"/>
<polygon points="420.50,455.20 420.50,454.60 421.80,454.60 421.80,455.20" fill="#ef6a6a"/>
<polygon points="433.00,455.20 433.00,454.70 434.50,454.70 434.50,455.20" fill="#ef6a6a"/>
<polygon points="437.50,455.20 437.50,453.60 439.20,453.60 439.20,455.20" fill="#ec2227"/>
<polygon points="441.70,455.20 441.70,454.00 443.70,454.00 443.70,453.50 445.10,453.50 445.10,451.50 447.00,451.50 447.00,446.30 448.90,446.30 448.90,443.80 451.20,443.80 451.20,434.70 452.80,434.70 452.80,424.60 454.70,424.60 454.70,423.20 456.60,423.20 456.60,420.30 458.00,420.30 458.00,455.20" fill="#ec2227"/>
<polygon points="468.20,455.20 468.20,454.70 469.40,454.70 469.40,455.20" fill="#f08080"/>
<polygon points="479.70,455.20 479.70,454.70 480.90,454.70 480.90,455.20" fill="#f08080"/>
<polygon points="485.30,455.20 485.30,454.70 486.50,454.70 486.50,455.20" fill="#f08080"/>
<polygon points="492.00,455.20 492.00,454.60 494.60,454.60 494.60,454.20 498.50,454.20 498.50,452.70 500.40,452.70 500.40,448.80 502.30,448.80 502.30,442.90 504.20,442.90 504.20,419.80 506.20,419.80 506.20,455.20" fill="#ec2227"/>
<polygon points="316.00,499.00 316.00,472.50 318.20,472.50 318.20,497.50 321.50,497.50 321.50,493.70 325.40,493.70 325.40,498.00 327.80,498.00 327.80,497.00 330.70,497.00 330.70,498.20 333.10,498.20 333.10,484.80 335.50,484.80 335.50,497.00 338.50,497.00 338.50,496.00 341.70,496.00 341.70,495.00 342.70,495.00 342.70,490.80 344.60,490.80 344.60,494.00 348.00,494.00 348.00,493.40 352.30,493.40 352.30,463.40 354.70,463.40 354.70,499.00" fill="#f6c63a" stroke="#c0a04a" stroke-width="0.5" stroke-linejoin="miter"/>
<polygon points="366.50,499.00 366.50,463.70 368.70,463.70 368.70,498.20 375.00,498.20 375.00,497.80 381.00,497.80 381.00,497.00 385.00,497.00 385.00,496.50 389.00,496.50 389.00,496.00 393.00,496.00 393.00,495.20 396.00,495.20 396.00,495.80 400.00,495.80 400.00,497.00 402.80,497.00 402.80,475.90 405.00,475.90 405.00,499.00" fill="#f6c63a" stroke="#c0a04a" stroke-width="0.5" stroke-linejoin="miter"/>
<polygon points="419.60,499.00 419.60,495.60 422.00,495.60 422.00,498.40 426.00,498.40 426.00,498.00 436.40,498.00 436.40,494.10 438.80,494.10 438.80,497.50 440.30,497.50 440.30,493.70 443.70,493.70 443.70,487.90 446.00,487.90 446.00,484.00 448.90,484.00 448.90,483.00 451.80,483.00 451.80,476.30 454.20,476.30 454.20,478.30 456.00,478.30 456.00,463.40 457.60,463.40 457.60,499.00" fill="#f6c63a" stroke="#c0a04a" stroke-width="0.5" stroke-linejoin="miter"/>
<polygon points="469.10,499.00 469.10,464.80 471.00,464.80 471.00,492.70 473.00,492.70 473.00,495.10 476.30,495.10 476.30,497.80 485.00,497.80 485.00,497.60 494.60,497.60 494.60,497.00 500.40,497.00 500.40,493.70 502.30,493.70 502.30,487.90 504.70,487.90 504.70,463.40 507.60,463.40 507.60,499.00" fill="#f6c63a" stroke="#c0a04a" stroke-width="0.5" stroke-linejoin="miter"/>
<polygon points="315.30,545.80 315.30,510.40 316.80,510.40 316.80,541.50 318.50,541.50 318.50,543.00 320.00,543.00 320.00,541.00 322.40,541.00 322.40,538.00 324.10,538.00 324.10,543.80 326.00,543.80 326.00,543.00 329.00,543.00 329.00,543.50 332.10,543.50 332.10,535.40 333.60,535.40 333.60,543.80 336.00,543.80 336.00,543.00 338.50,543.00 338.50,543.60 340.50,543.60 340.50,540.60 343.10,540.60 343.10,543.60 346.00,543.60 346.00,544.20 349.00,544.20 349.00,544.00 351.40,544.00 351.40,540.60 352.70,540.60 352.70,545.80" fill="#1d2f8e"/>
<polygon points="366.80,545.80 366.80,510.20 368.90,510.20 368.90,544.80 372.00,544.80 372.00,544.30 376.00,544.30 376.00,543.80 379.00,543.80 379.00,543.50 382.00,543.50 382.00,542.80 384.00,542.80 384.00,541.50 386.00,541.50 386.00,543.00 388.00,543.00 388.00,542.30 391.00,542.30 391.00,542.80 394.00,542.80 394.00,543.30 397.00,543.30 397.00,544.00 400.00,544.00 400.00,545.00 403.30,545.00 403.30,538.50 404.90,538.50 404.90,545.80" fill="#1d2f8e"/>
<polygon points="418.70,545.60 418.70,538.50 419.90,538.50 419.90,545.60" fill="#1d2f8e"/>
<polygon points="423.30,545.60 423.30,544.00 426.20,544.00 426.20,541.30 427.90,541.30 427.90,543.70 430.20,543.70 430.20,539.60 432.50,539.60 432.50,537.30 434.20,537.30 434.20,535.00 435.60,535.00 435.60,518.80 437.70,518.80 437.70,532.70 439.40,532.70 439.40,510.20 441.20,510.20 441.20,520.00 443.50,520.00 443.50,514.80 445.20,514.80 445.20,516.00 446.90,516.00 446.90,528.70 448.70,528.70 448.70,535.60 450.40,535.60 450.40,537.90 452.10,537.90 452.10,539.60 454.40,539.60 454.40,539.00 456.70,539.00 456.70,545.60" fill="#1d2f8e"/>
<polygon points="469.00,545.60 469.00,510.20 471.00,510.20 471.00,543.70 472.70,543.70 472.70,545.00 476.00,545.00 476.00,545.60" fill="#1d2f8e"/>
<polygon points="479.00,545.60 479.00,545.00 480.20,545.00 480.20,545.60" fill="#a0a8d0"/>
<polygon points="488.00,545.60 488.00,545.00 489.20,545.00 489.20,545.60" fill="#a0a8d0"/>
<polygon points="506.00,545.60 506.00,545.00 507.20,545.00 507.20,545.60" fill="#a0a8d0"/>
<line x1="308.50" y1="550.80" x2="308.50" y2="520.00" stroke="#231f20" stroke-width="1.1"/>
<polygon points="308.60,512.30 305.60,522.90 311.60,522.90" fill="#231f20"/>
<line x1="308.00" y1="550.30" x2="342.00" y2="550.30" stroke="#231f20" stroke-width="1.1"/>
<polygon points="350.60,550.30 339.70,547.70 339.70,552.90" fill="#231f20"/>
<text transform="translate(303.80,551.00) rotate(-90) scale(0.865,1)" font-size="7.6" font-weight="bold" font-style="normal" fill="#231f20" stroke="#231f20" stroke-width="0.2">No. of reads</text>
<text transform="translate(306.20,560.20) scale(0.947,1)" font-size="7.8" font-weight="normal" font-style="normal" fill="#231f20" stroke="#231f20" stroke-width="0.35">% methylation</text>
<text transform="translate(31.90,560.60) scale(1.356,1)" font-size="7.8" font-weight="bold" font-style="normal" fill="#231f20" stroke="#231f20" stroke-width="0.3">7q21</text>
<text transform="translate(28.80,573.80) scale(0.964,1)" font-size="7.4" font-weight="normal" font-style="normal" fill="#231f20" stroke="#231f20" stroke-width="0.22">Centromer</text>
<text transform="translate(268.30,573.80) scale(1.022,1)" font-size="7.4" font-weight="normal" font-style="normal" fill="#231f20" stroke="#231f20" stroke-width="0.22">Telomer</text>
<line x1="58.00" y1="564.20" x2="276.40" y2="564.20" stroke="#231f20" stroke-width="1.0"/>
<polygon points="72.10,559.80 78.75,559.80 84.20,564.20 78.75,568.60 72.10,568.60" fill="#3cb44b" stroke="#1e3a1e" stroke-width="0.6" stroke-linejoin="miter"/>
<polygon points="109.80,559.80 103.42,559.80 98.20,564.20 103.42,568.60 109.80,568.60" fill="#1b5a8e" stroke="#102a40" stroke-width="0.6" stroke-linejoin="miter"/>
<polygon points="134.00,559.80 127.34,559.80 121.90,564.20 127.34,568.60 134.00,568.60" fill="#1b5a8e" stroke="#102a40" stroke-width="0.6" stroke-linejoin="miter"/>
<polygon points="156.90,559.80 150.58,559.80 145.40,564.20 150.58,568.60 156.90,568.60" fill="#1b5a8e" stroke="#102a40" stroke-width="0.6" stroke-linejoin="miter"/>
<polygon points="171.70,559.80 178.08,559.80 183.30,564.20 178.08,568.60 171.70,568.60" fill="#1b5a8e" stroke="#102a40" stroke-width="0.6" stroke-linejoin="miter"/>
<polygon points="219.80,559.80 213.48,559.80 208.30,564.20 213.48,568.60 219.80,568.60" fill="#1b5a8e" stroke="#102a40" stroke-width="0.6" stroke-linejoin="miter"/>
<polygon points="232.50,559.80 238.88,559.80 244.10,564.20 238.88,568.60 232.50,568.60" fill="#1b5a8e" stroke="#102a40" stroke-width="0.6" stroke-linejoin="miter"/>
<polygon points="265.60,559.80 259.22,559.80 254.00,564.20 259.22,568.60 265.60,568.60" fill="#d7263d" stroke="#401010" stroke-width="0.6" stroke-linejoin="miter"/>
<text transform="translate(80.80,556.30) rotate(-90) scale(0.959,1)" font-size="8.1" font-weight="bold" font-style="italic" fill="#231f20" stroke="#231f20" stroke-width="0.1">PEG10</text>
<text transform="translate(106.30,556.30) rotate(-90) scale(0.939,1)" font-size="8.1" font-weight="bold" font-style="italic" fill="#231f20" stroke="#231f20" stroke-width="0.1">PON3</text>
<text transform="translate(130.10,556.30) rotate(-90) scale(0.929,1)" font-size="8.1" font-weight="bold" font-style="italic" fill="#231f20" stroke="#231f20" stroke-width="0.1">PON2</text>
<text transform="translate(153.40,556.30) rotate(-90) scale(0.921,1)" font-size="8.1" font-weight="bold" font-style="italic" fill="#231f20" stroke="#231f20" stroke-width="0.1">PDK4</text>
<text transform="translate(180.60,556.30) rotate(-90) scale(0.959,1)" font-size="8.1" font-weight="bold" font-style="italic" fill="#231f20" stroke="#231f20" stroke-width="0.1">DYNC1I1</text>
<text transform="translate(216.60,556.30) rotate(-90) scale(0.966,1)" font-size="8.1" font-weight="bold" font-style="italic" fill="#231f20" stroke="#231f20" stroke-width="0.1">DLX5</text>
<text transform="translate(241.00,556.30) rotate(-90) scale(0.929,1)" font-size="8.1" font-weight="bold" font-style="italic" fill="#231f20" stroke="#231f20" stroke-width="0.1">TAC1</text>
<text transform="translate(262.50,556.14) rotate(-90) scale(0.935,1)" font-size="8.1" font-weight="bold" font-style="italic" fill="#231f20" stroke="#231f20" stroke-width="0.1">ASNS</text>
<rect x="60.60" y="591.70" width="29.78" height="9.97" fill="#cc3328" shape-rendering="crispEdges"/>
<rect x="89.88" y="591.70" width="29.78" height="9.97" fill="#c42329" shape-rendering="crispEdges"/>
<rect x="119.15" y="591.70" width="29.78" height="9.97" fill="#c8282b" shape-rendering="crispEdges"/>
<rect x="148.43" y="591.70" width="29.78" height="9.97" fill="#c42329" shape-rendering="crispEdges"/>
<rect x="177.70" y="591.70" width="29.78" height="9.97" fill="#c8282b" shape-rendering="crispEdges"/>
<rect x="206.97" y="591.70" width="29.78" height="9.97" fill="#e06a3a" shape-rendering="crispEdges"/>
<rect x="236.25" y="591.70" width="29.78" height="9.97" fill="#c8282b" shape-rendering="crispEdges"/>
<rect x="265.53" y="591.70" width="29.78" height="9.97" fill="#c42329" shape-rendering="crispEdges"/>
<rect x="60.60" y="601.17" width="29.78" height="9.97" fill="#cc3328" shape-rendering="crispEdges"/>
<rect x="89.88" y="601.17" width="29.78" height="9.97" fill="#c42329" shape-rendering="crispEdges"/>
<rect x="119.15" y="601.17" width="29.78" height="9.97" fill="#c42329" shape-rendering="crispEdges"/>
<rect x="148.43" y="601.17" width="29.78" height="9.97" fill="#c42329" shape-rendering="crispEdges"/>
<rect x="177.70" y="601.17" width="29.78" height="9.97" fill="#d64a2c" shape-rendering="crispEdges"/>
<rect x="206.97" y="601.17" width="29.78" height="9.97" fill="#d64a2c" shape-rendering="crispEdges"/>
<rect x="236.25" y="601.17" width="29.78" height="9.97" fill="#d0392b" shape-rendering="crispEdges"/>
<rect x="265.53" y="601.17" width="29.78" height="9.97" fill="#c42329" shape-rendering="crispEdges"/>
<rect x="60.60" y="610.63" width="29.78" height="9.97" fill="#f4b56a" shape-rendering="crispEdges"/>
<rect x="89.88" y="610.63" width="29.78" height="9.97" fill="#d0352a" shape-rendering="crispEdges"/>
<rect x="119.15" y="610.63" width="29.78" height="9.97" fill="#d4432c" shape-rendering="crispEdges"/>
<rect x="148.43" y="610.63" width="29.78" height="9.97" fill="#e27540" shape-rendering="crispEdges"/>
<rect x="177.70" y="610.63" width="29.78" height="9.97" fill="#e27845" shape-rendering="crispEdges"/>
<rect x="206.97" y="610.63" width="29.78" height="9.97" fill="#eb8a50" shape-rendering="crispEdges"/>
<rect x="236.25" y="610.63" width="29.78" height="9.97" fill="#ee9a5a" shape-rendering="crispEdges"/>
<rect x="265.53" y="610.63" width="29.78" height="9.97" fill="#f6bc6e" shape-rendering="crispEdges"/>
<rect x="60.60" y="620.10" width="29.78" height="9.97" fill="#f4b56a" shape-rendering="crispEdges"/>
<rect x="89.88" y="620.10" width="29.78" height="9.97" fill="#d9492d" shape-rendering="crispEdges"/>
<rect x="119.15" y="620.10" width="29.78" height="9.97" fill="#f3b66b" shape-rendering="crispEdges"/>
<rect x="148.43" y="620.10" width="29.78" height="9.97" fill="#db5531" shape-rendering="crispEdges"/>
<rect x="177.70" y="620.10" width="29.78" height="9.97" fill="#2a72c0" shape-rendering="crispEdges"/>
<rect x="206.97" y="620.10" width="29.78" height="9.97" fill="#f4bc6e" shape-rendering="crispEdges"/>
<rect x="236.25" y="620.10" width="29.78" height="9.97" fill="#d64a2c" shape-rendering="crispEdges"/>
<rect x="265.53" y="620.10" width="29.78" height="9.97" fill="#f8d07a" shape-rendering="crispEdges"/>
<rect x="60.60" y="629.57" width="29.78" height="9.97" fill="#95bba0" shape-rendering="crispEdges"/>
<rect x="89.88" y="629.57" width="29.78" height="9.97" fill="#d9452d" shape-rendering="crispEdges"/>
<rect x="119.15" y="629.57" width="29.78" height="9.97" fill="#2f7fc0" shape-rendering="crispEdges"/>
<rect x="148.43" y="629.57" width="29.78" height="9.97" fill="#f3b066" shape-rendering="crispEdges"/>
<rect x="177.70" y="629.57" width="29.78" height="9.97" fill="#2a72c0" shape-rendering="crispEdges"/>
<rect x="206.97" y="629.57" width="29.78" height="9.97" fill="#e87f48" shape-rendering="crispEdges"/>
<rect x="236.25" y="629.57" width="29.78" height="9.97" fill="#e06a3a" shape-rendering="crispEdges"/>
<rect x="265.53" y="629.57" width="29.78" height="9.97" fill="#2f7fc6" shape-rendering="crispEdges"/>
<rect x="60.60" y="639.03" width="29.78" height="9.97" fill="#a0c4a0" shape-rendering="crispEdges"/>
<rect x="89.88" y="639.03" width="29.78" height="9.97" fill="#e06a3a" shape-rendering="crispEdges"/>
<rect x="119.15" y="639.03" width="29.78" height="9.97" fill="#d9452d" shape-rendering="crispEdges"/>
<rect x="148.43" y="639.03" width="29.78" height="9.97" fill="#e06a3a" shape-rendering="crispEdges"/>
<rect x="177.70" y="639.03" width="29.78" height="9.97" fill="#2a72c0" shape-rendering="crispEdges"/>
<rect x="206.97" y="639.03" width="29.78" height="9.97" fill="#b8d79a" shape-rendering="crispEdges"/>
<rect x="236.25" y="639.03" width="29.78" height="9.97" fill="#f4b86c" shape-rendering="crispEdges"/>
<rect x="265.53" y="639.03" width="29.78" height="9.97" fill="#2d6fc0" shape-rendering="crispEdges"/>
<text transform="translate(62.34,588.80) scale(1.000,1)" font-size="8.0" font-weight="bold" font-style="italic" fill="#231f20" stroke="#231f20" stroke-width="0.1">PEG10</text>
<text transform="translate(93.62,588.80) scale(1.000,1)" font-size="8.0" font-weight="bold" font-style="italic" fill="#231f20" stroke="#231f20" stroke-width="0.1">PON3</text>
<text transform="translate(122.90,588.80) scale(1.000,1)" font-size="8.0" font-weight="bold" font-style="italic" fill="#231f20" stroke="#231f20" stroke-width="0.1">PON2</text>
<text transform="translate(152.39,588.80) scale(1.000,1)" font-size="8.0" font-weight="bold" font-style="italic" fill="#231f20" stroke="#231f20" stroke-width="0.1">PDK4</text>
<text transform="translate(175.44,588.80) scale(1.000,1)" font-size="8.0" font-weight="bold" font-style="italic" fill="#231f20" stroke="#231f20" stroke-width="0.1">DYNC1I1</text>
<text transform="translate(211.34,588.80) scale(1.000,1)" font-size="8.0" font-weight="bold" font-style="italic" fill="#231f20" stroke="#231f20" stroke-width="0.1">DLX5</text>
<text transform="translate(240.74,588.80) scale(1.000,1)" font-size="8.0" font-weight="bold" font-style="italic" fill="#231f20" stroke="#231f20" stroke-width="0.1">TAC1</text>
<text transform="translate(269.13,588.80) scale(1.000,1)" font-size="8.0" font-weight="bold" font-style="italic" fill="#231f20" stroke="#231f20" stroke-width="0.1">ASNS</text>
<text transform="translate(24.50,598.70) scale(0.863,1)" font-size="8.1" font-weight="bold" font-style="normal" fill="#231f20" stroke="#231f20" stroke-width="0.1">ALL-SIL</text>
<text transform="translate(25.10,608.40) scale(0.896,1)" font-size="8.1" font-weight="bold" font-style="normal" fill="#231f20" stroke="#231f20" stroke-width="0.1">LOUCY</text>
<text transform="translate(24.50,618.10) scale(0.916,1)" font-size="8.1" font-weight="bold" font-style="normal" fill="#231f20" stroke="#231f20" stroke-width="0.1">KOPT-5</text>
<text transform="translate(21.60,627.80) scale(0.895,1)" font-size="8.1" font-weight="bold" font-style="normal" fill="#231f20" stroke="#231f20" stroke-width="0.1">HPB-ALL</text>
<text transform="translate(17.90,637.40) scale(0.907,1)" font-size="8.1" font-weight="bold" font-style="normal" fill="#231f20" stroke="#231f20" stroke-width="0.1">CCRF-CEM</text>
<text transform="translate(23.70,647.10) scale(0.875,1)" font-size="8.1" font-weight="bold" font-style="normal" fill="#231f20" stroke="#231f20" stroke-width="0.1">JURKAT</text>
<text transform="translate(151.80,661.50) scale(1.023,1)" font-size="7.8" font-weight="normal" font-style="normal" fill="#231f20" stroke="#231f20" stroke-width="0.22">% methylation</text>
<text transform="translate(135.00,670.20) scale(0.923,1)" font-size="7.8" font-weight="normal" font-style="normal" fill="#231f20" stroke="#231f20" stroke-width="0.22">0%</text>
<text transform="translate(208.80,670.20) scale(0.927,1)" font-size="7.8" font-weight="normal" font-style="normal" fill="#231f20" stroke="#231f20" stroke-width="0.22">100%</text>
<rect x="149.00" y="665.20" width="5.57" height="5.70" fill="#1a64b8" shape-rendering="crispEdges"/>
<rect x="154.07" y="665.20" width="5.57" height="5.70" fill="#2e84c0" shape-rendering="crispEdges"/>
<rect x="159.14" y="665.20" width="5.57" height="5.70" fill="#5aa0b0" shape-rendering="crispEdges"/>
<rect x="164.20" y="665.20" width="5.57" height="5.70" fill="#8fbd9a" shape-rendering="crispEdges"/>
<rect x="169.27" y="665.20" width="5.57" height="5.70" fill="#c5d98a" shape-rendering="crispEdges"/>
<rect x="174.34" y="665.20" width="5.57" height="5.70" fill="#f2ec7c" shape-rendering="crispEdges"/>
<rect x="179.41" y="665.20" width="5.57" height="5.70" fill="#fbb35a" shape-rendering="crispEdges"/>
<rect x="184.48" y="665.20" width="5.57" height="5.70" fill="#f59142" shape-rendering="crispEdges"/>
<rect x="189.55" y="665.20" width="5.57" height="5.70" fill="#e8562e" shape-rendering="crispEdges"/>
<rect x="194.61" y="665.20" width="5.57" height="5.70" fill="#d9242a" shape-rendering="crispEdges"/>
<rect x="199.68" y="665.20" width="5.57" height="5.70" fill="#c41e2c" shape-rendering="crispEdges"/>
</svg>
</body></html>
